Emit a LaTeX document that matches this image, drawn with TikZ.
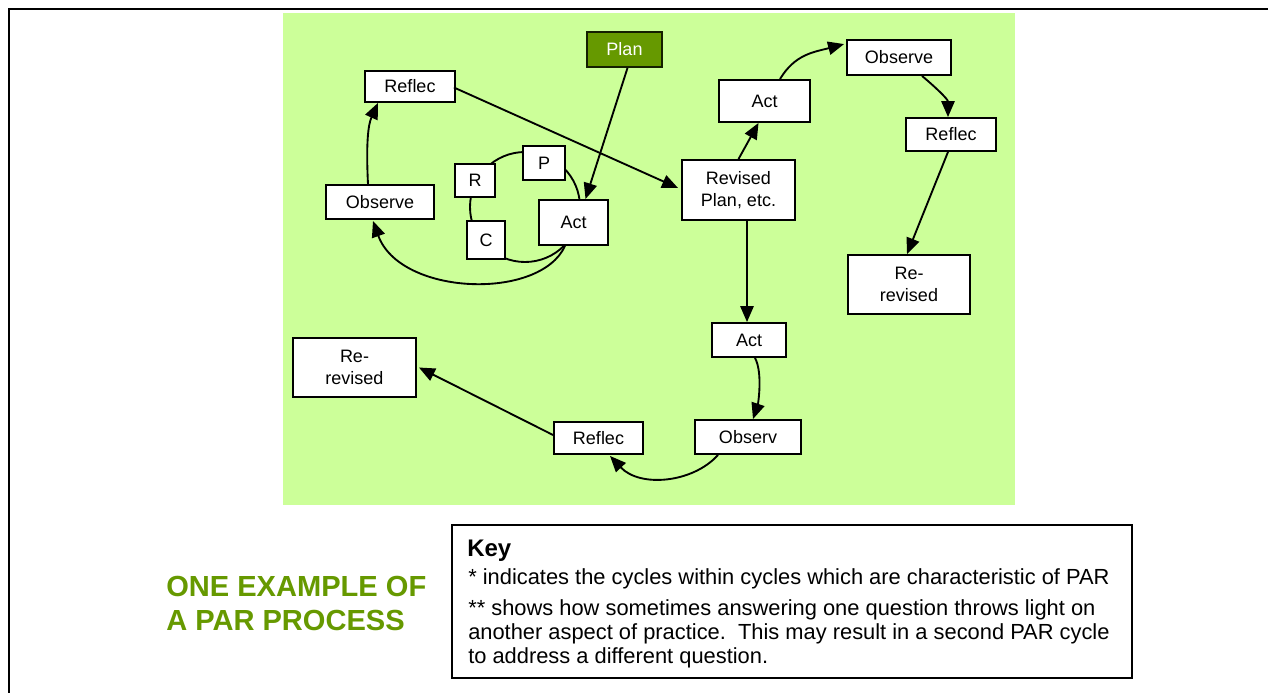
\documentclass[tikz,border=0pt]{standalone}
\usepackage{fontspec}
\setmainfont{Liberation Sans}
\usetikzlibrary{arrows.meta,calc}
\definecolor{bggreen}{HTML}{CCFF99}
\definecolor{darkgreen}{HTML}{669900}
\definecolor{titlegreen}{HTML}{669900}
\begin{document}
\begin{tikzpicture}[x=0.75pt,y=-0.75pt,
  sz/.style 2 args={minimum width=#1*0.75pt, minimum height=#2*0.75pt},
  box/.style={draw=black, fill=white, line width=1.4pt, inner sep=0pt, align=center,
    font=\fontsize{13.5}{17}\selectfont},
  planbox/.style={box, fill=darkgreen, text=white, draw=black!80!darkgreen},
  arr/.style={line width=1.4pt, -{Triangle[length=12pt,width=10pt]}},
  link/.style={line width=1.4pt},
  keytext/.style={anchor=base west, inner sep=0pt, align=left, font=\fontsize{16.4}{18}\selectfont}
]
\useasboundingbox (0,0) rectangle (1268,693);
% page frame
\draw[line width=1.6pt] (8,9) -- (1268,9);
\draw[line width=1.6pt] (9,8) -- (9,693);
% green background
\fill[bggreen] (283,13) rectangle (1015,505);

% small inner cycle
\draw[link] (525,207) circle[radius=41.25pt];

% nodes
\node[planbox, sz={75}{35}] (plan) at (624.5,49.5) {Plan};
\node[box, sz={90}{31}] (reflA) at (410,86.5) {Reflec};
\node[box, sz={108}{34}] (obsA) at (380,202) {Observe};
\node[box, sz={40}{33}] (R) at (475,180.5) {R};
\node[box, sz={42}{34}] (P) at (544,163) {P};
\node[box, sz={38}{38}] (C) at (486,240) {C};
\node[box, sz={69}{45}] (actA) at (573.5,222.5) {Act};
\node[box, sz={113}{60}] (rev) at (738.5,190) {Revised\\Plan, etc.};
\node[box, sz={91}{42}] (actB) at (764.5,101) {Act};
\node[box, sz={104}{35}] (obsB) at (899,57.5) {Observe};
\node[box, sz={90}{33}] (reflB) at (951,134.5) {Reflec};
\node[box, sz={122}{59}] (rerevB) at (909,284.5) {Re-\\revised};
\node[box, sz={74}{34}] (actC) at (749,340) {Act};
\node[box, sz={106}{34}] (obsC) at (748,437) {Observ};
\node[box, sz={89}{32}] (reflC) at (598.5,438) {Reflec};
\node[box, sz={123}{59}] (rerevA) at (354.5,367.5) {Re-\\revised};

% connectors
\draw[arr] ($(plan.south)+(3,0)$) -- ($(actA.north)+(12,0)$);
\draw[arr] ($(reflA.east)+(-2,1)$) -- ($(rev.west)+(-3,-2)$);
\draw[arr] ($(obsA.north)+(-12,0)$) .. controls +(-2,-40) and +(-10,22) .. ($(reflA.south)+(-32,0)$);
\draw[arr] ($(actA.south)+(-8.5,0)$) .. controls +(-25,55) and +(27,75) .. ($(obsA.south)+(-7,1)$);
\draw[arr] (rev.north) -- ($(actB.south)+(-6,0)$);
\draw[arr] ($(actB.north)+(15.5,0)$) .. controls +(15,-25) and +(-30,8) .. ($(obsB.north west)+(-2,5)$);
\draw[arr] ($(obsB.south)+(23,0)$) .. controls +(12,10) and +(0,-18) .. ($(reflB.north)+(-3,0)$);
\draw[arr] ($(reflB.south)+(-3,0)$) -- ($(rerevB.north)+(-2,0)$);
\draw[arr] ($(rev.south)+(8.5,0)$) -- ($(actC.north)+(-2,0)$);
\draw[arr] ($(actC.south)+(6,0)$) .. controls +(8,15) and +(5,-15) .. ($(obsC.north)+(5,0)$);
\draw[arr] ($(obsC.south)+(-30,0)$) .. controls +(-25,28) and +(30,32) .. ($(reflC.south)+(11.5,1)$);
\draw[arr] ($(reflC.west)+(0,-3)$) -- ($(rerevA.east)+(2,0)$);

% title
\node[anchor=base west, inner sep=0pt, align=left, text=titlegreen,
  font=\fontsize{21.8}{25.5}\selectfont\bfseries] (title) at (166,630) {ONE EXAMPLE OF\\A PAR PROCESS};

% key box
\fill[black!45] (453,526) rectangle (1133,679);
\node[draw=black, fill=white, line width=1.4pt, sz={680}{153}, anchor=north west, inner sep=0pt] (keybox) at (451,524) {};
\node[keytext, font=\fontsize{18}{18}\selectfont\bfseries] (keyhead) at (467,556) {Key};
\node[keytext] (key1) at (468,584) {* indicates the cycles within cycles which are characteristic of PAR};
\node[keytext] (key2) at (468,663) {** shows how sometimes answering one question throws light on\\another aspect of practice.\ \ This may result in a second PAR cycle\\to address a different question.};
\end{tikzpicture}
\end{document}
